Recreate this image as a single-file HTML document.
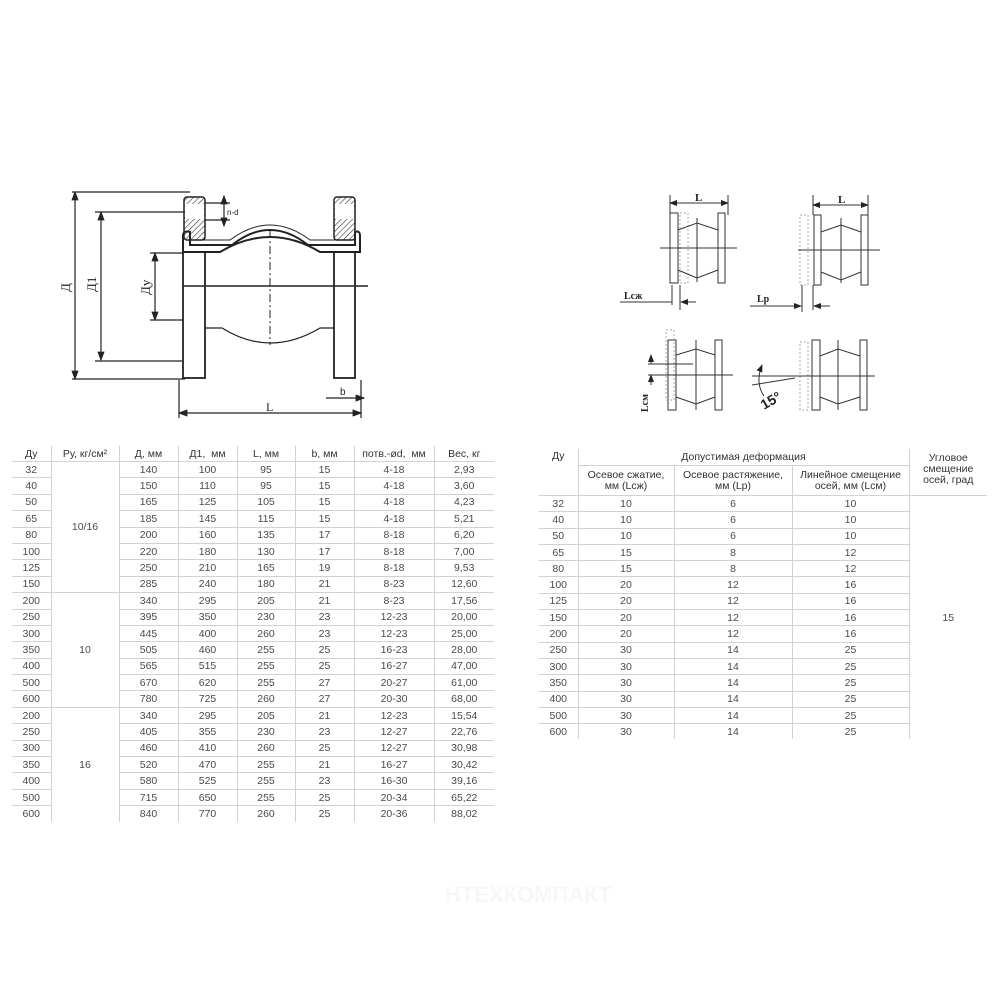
<!DOCTYPE html>
<html><head><meta charset="utf-8"><style>
html,body{margin:0;padding:0;background:#fff;width:1000px;height:1000px;overflow:hidden;position:relative;font-family:"Liberation Sans","DejaVu Sans",sans-serif;color:#4a4a4a}
table{border-collapse:collapse;table-layout:fixed;position:absolute;font-size:10.5px}
td{padding:0;text-align:center;vertical-align:middle;white-space:nowrap;overflow:hidden}
#t1 td{height:15.4px;border-top:1px solid #d2d2d2;border-left:1px solid #d2d2d2}
#t1 tr.h td{border-top:none;height:15px;color:#333;font-size:10.5px}
#t1 td.f{border-left:none}
#t2 td{height:15.3px;border-top:1px solid #d2d2d2;border-left:1px solid #d2d2d2}
#t2 .nb{border-left:none}
#t2 .nt{border-top:none}
#t2 .hd{color:#333;line-height:11px}
svg{position:absolute;left:0;top:0}
</style></head><body>
<svg width="1000" height="440" viewBox="0 0 1000 440" fill="none" stroke="#222" stroke-width="1.2">
<defs><pattern id="h" width="4" height="4" patternUnits="userSpaceOnUse" patternTransform="rotate(45)"><line x1="0" y1="0" x2="0" y2="4" stroke="#333" stroke-width="1.2"/></pattern>
<marker id="a" markerWidth="8" markerHeight="8" refX="7" refY="4" orient="auto-start-reverse"><path d="M0,1 L8,4 L0,7 Z" fill="#222" stroke="none"/></marker></defs>
<line x1="72" y1="192" x2="190" y2="192"/><line x1="75" y1="192" x2="75" y2="379" marker-start="url(#a)" marker-end="url(#a)"/><line x1="72" y1="379" x2="185" y2="379"/>
<line x1="95" y1="212" x2="185" y2="212"/><line x1="101" y1="212" x2="101" y2="360" marker-start="url(#a)" marker-end="url(#a)"/><line x1="95" y1="361" x2="182" y2="361"/>
<line x1="150" y1="253" x2="183" y2="253"/><line x1="155" y1="253" x2="155" y2="320" marker-start="url(#a)" marker-end="url(#a)"/><line x1="150" y1="320" x2="183" y2="320"/>
<text x="70" y="292" font-family="Liberation Serif" font-size="13" fill="#222" stroke="none" transform="rotate(-90 70 292)">Д</text>
<text x="96" y="292" font-family="Liberation Serif" font-size="13" fill="#222" stroke="none" transform="rotate(-90 96 292)">Д1</text>
<text x="150" y="295" font-family="Liberation Serif" font-size="13" fill="#222" stroke="none" transform="rotate(-90 150 295)">Ду</text>
<rect x="184" y="197" width="21" height="43" fill="url(#h)" rx="3" stroke-width="1.5"/>
<rect x="185" y="204" width="19" height="15" fill="#fff" stroke="none"/>
<rect x="334" y="197" width="21" height="43" fill="url(#h)" rx="3" stroke-width="1.5"/>
<rect x="335" y="204" width="19" height="15" fill="#fff" stroke="none"/>
<line x1="205" y1="203" x2="230" y2="203"/><line x1="205" y1="220" x2="230" y2="220"/>
<line x1="224" y1="196" x2="224" y2="226" marker-start="url(#a)" marker-end="url(#a)"/>
<text x="227" y="215" font-size="8" fill="#222" stroke="none">n-d</text>
<path d="M183,236 Q183,230 190,232 L190,245 L232,245 Q270,215 308,245 L355,245 L355,232 Q360,230 360,236 L360,252 L320,252 Q270,222 220,252 L183,252 Z" stroke-width="2"/>
<path d="M190,240 L230,240 Q270,210 310,240 L352,240" stroke-width="1"/>
<rect x="183" y="252" width="22" height="126" stroke-width="1.8"/>
<rect x="334" y="252" width="21" height="126" stroke-width="1.8"/>
<line x1="183" y1="286" x2="368" y2="286" stroke-width="1.6"/>
<line x1="270" y1="230" x2="270" y2="345" stroke-dasharray="8,3,2,3" stroke-width="1"/>
<path d="M205,328 L222,328 Q270,358 320,328 L334,328" stroke-width="1.2"/>
<line x1="179" y1="380" x2="179" y2="418"/><line x1="361" y1="380" x2="361" y2="418"/>
<line x1="179" y1="413" x2="361" y2="413" marker-start="url(#a)" marker-end="url(#a)"/>
<text x="266" y="411" font-family="Liberation Serif" font-size="12" fill="#222" stroke="none">L</text>
<path d="M326,398 L334,398 M355,398 L364,398" marker-end="url(#a)"/>
<line x1="334" y1="398" x2="355" y2="398"/>
<text x="340" y="395" font-size="10" fill="#222" stroke="none">b</text>
<g stroke-width="1" stroke="#333">
<line x1="670" y1="195" x2="670" y2="215"/><line x1="728" y1="195" x2="728" y2="215"/>
<line x1="670" y1="203" x2="728" y2="203" marker-start="url(#a)" marker-end="url(#a)"/>
<text x="695" y="201" font-family="Liberation Serif" font-size="11" font-weight="bold" fill="#222" stroke="none">L</text>
<rect x="670" y="213" width="8" height="70"/><rect x="718" y="213" width="7" height="70"/>
<rect x="680" y="213" width="8" height="70" stroke="#aaa" stroke-dasharray="2,2"/>
<path d="M678,230 L697,223 L718,230 M678,270 L697,278 L718,270"/>
<line x1="660" y1="248" x2="737" y2="248"/><line x1="697" y1="218" x2="697" y2="282"/>
<line x1="672" y1="285" x2="672" y2="305"/><line x1="680" y1="285" x2="680" y2="310"/>
<line x1="620" y1="302" x2="672" y2="302"/><line x1="696" y1="302" x2="681" y2="302" marker-end="url(#a)"/>
<text x="624" y="299" font-family="Liberation Serif" font-size="10" font-weight="bold" fill="#222" stroke="none">Lсж</text>
<line x1="813" y1="195" x2="813" y2="215"/><line x1="868" y1="195" x2="868" y2="215"/>
<line x1="813" y1="205" x2="868" y2="205" marker-start="url(#a)" marker-end="url(#a)"/>
<text x="838" y="203" font-family="Liberation Serif" font-size="11" font-weight="bold" fill="#222" stroke="none">L</text>
<rect x="814" y="215" width="7" height="70"/><rect x="861" y="215" width="7" height="70"/>
<rect x="800" y="215" width="8" height="70" stroke="#aaa" stroke-dasharray="2,2"/>
<path d="M821,232 L841,225 L861,232 M821,272 L841,280 L861,272"/>
<line x1="798" y1="250" x2="880" y2="250"/><line x1="841" y1="218" x2="841" y2="283"/>
<line x1="802" y1="285" x2="802" y2="312"/><line x1="813" y1="285" x2="813" y2="310"/>
<line x1="750" y1="306" x2="801" y2="306" marker-end="url(#a)"/><line x1="830" y1="306" x2="814" y2="306" marker-end="url(#a)"/>
<text x="757" y="302" font-family="Liberation Serif" font-size="10" font-weight="bold" fill="#222" stroke="none">Lp</text>
<rect x="668" y="340" width="8" height="70"/><rect x="715" y="340" width="7" height="70"/>
<rect x="666" y="330" width="8" height="70" stroke="#aaa" stroke-dasharray="2,2"/>
<path d="M676,355 L696,349 L715,355 M676,397 L696,404 L715,397"/>
<line x1="648" y1="375" x2="733" y2="375"/><line x1="648" y1="364" x2="693" y2="364"/><line x1="696" y1="340" x2="696" y2="410"/>
<line x1="651" y1="355" x2="651" y2="364" marker-start="url(#a)"/><line x1="651" y1="375" x2="651" y2="385" marker-start="url(#a)"/>
<text x="648" y="412" font-family="Liberation Serif" font-size="10" font-weight="bold" fill="#222" stroke="none" transform="rotate(-90 648 412)">Lсм</text>
<rect x="812" y="340" width="8" height="70"/><rect x="860" y="340" width="7" height="70"/>
<rect x="800" y="342" width="8" height="68" stroke="#aaa" stroke-dasharray="2,2"/>
<path d="M820,356 L838,349 L860,356 M820,397 L838,404 L860,397"/>
<line x1="752" y1="376" x2="875" y2="376"/><line x1="838" y1="340" x2="838" y2="410"/>
<line x1="752" y1="385" x2="795" y2="378"/>
<path d="M762,365 Q755,383 764,396" marker-start="url(#a)"/>
<text x="764" y="410" font-size="14" font-weight="bold" fill="#222" stroke="none" transform="rotate(-30 764 410)">15°</text>
</g>
</svg>

<table id="t1" style="left:12px;top:446px;width:482px">
<colgroup><col style="width:39px"><col style="width:68px"><col style="width:59px"><col style="width:59px"><col style="width:58px"><col style="width:59px"><col style="width:80px"><col style="width:60px"></colgroup>
<tr class="h"><td class="f">Ду</td><td>Ру, кг/см²</td><td>Д, мм</td><td>Д1,&nbsp; мм</td><td>L, мм</td><td>b, мм</td><td>потв.-ød,&nbsp; мм</td><td>Вес, кг</td></tr>
<tr><td class="f">32</td><td rowspan="8">10/16</td><td>140</td><td>100</td><td>95</td><td>15</td><td>4-18</td><td>2,93</td></tr>
<tr><td class="f">40</td><td>150</td><td>110</td><td>95</td><td>15</td><td>4-18</td><td>3,60</td></tr>
<tr><td class="f">50</td><td>165</td><td>125</td><td>105</td><td>15</td><td>4-18</td><td>4,23</td></tr>
<tr><td class="f">65</td><td>185</td><td>145</td><td>115</td><td>15</td><td>4-18</td><td>5,21</td></tr>
<tr><td class="f">80</td><td>200</td><td>160</td><td>135</td><td>17</td><td>8-18</td><td>6,20</td></tr>
<tr><td class="f">100</td><td>220</td><td>180</td><td>130</td><td>17</td><td>8-18</td><td>7,00</td></tr>
<tr><td class="f">125</td><td>250</td><td>210</td><td>165</td><td>19</td><td>8-18</td><td>9,53</td></tr>
<tr><td class="f">150</td><td>285</td><td>240</td><td>180</td><td>21</td><td>8-23</td><td>12,60</td></tr>
<tr><td class="f">200</td><td rowspan="7">10</td><td>340</td><td>295</td><td>205</td><td>21</td><td>8-23</td><td>17,56</td></tr>
<tr><td class="f">250</td><td>395</td><td>350</td><td>230</td><td>23</td><td>12-23</td><td>20,00</td></tr>
<tr><td class="f">300</td><td>445</td><td>400</td><td>260</td><td>23</td><td>12-23</td><td>25,00</td></tr>
<tr><td class="f">350</td><td>505</td><td>460</td><td>255</td><td>25</td><td>16-23</td><td>28,00</td></tr>
<tr><td class="f">400</td><td>565</td><td>515</td><td>255</td><td>25</td><td>16-27</td><td>47,00</td></tr>
<tr><td class="f">500</td><td>670</td><td>620</td><td>255</td><td>27</td><td>20-27</td><td>61,00</td></tr>
<tr><td class="f">600</td><td>780</td><td>725</td><td>260</td><td>27</td><td>20-30</td><td>68,00</td></tr>
<tr><td class="f">200</td><td rowspan="7">16</td><td>340</td><td>295</td><td>205</td><td>21</td><td>12-23</td><td>15,54</td></tr>
<tr><td class="f">250</td><td>405</td><td>355</td><td>230</td><td>23</td><td>12-27</td><td>22,76</td></tr>
<tr><td class="f">300</td><td>460</td><td>410</td><td>260</td><td>25</td><td>12-27</td><td>30,98</td></tr>
<tr><td class="f">350</td><td>520</td><td>470</td><td>255</td><td>21</td><td>16-27</td><td>30,42</td></tr>
<tr><td class="f">400</td><td>580</td><td>525</td><td>255</td><td>23</td><td>16-30</td><td>39,16</td></tr>
<tr><td class="f">500</td><td>715</td><td>650</td><td>255</td><td>25</td><td>20-34</td><td>65,22</td></tr>
<tr><td class="f">600</td><td>840</td><td>770</td><td>260</td><td>25</td><td>20-36</td><td>88,02</td></tr>
</table>

<table id="t2" style="left:539px;top:449px;width:448px">
<colgroup><col style="width:39px"><col style="width:96px"><col style="width:118px"><col style="width:117px"><col style="width:78px"></colgroup>
<tr><td rowspan="2" class="nb nt hd" style="vertical-align:top;padding-top:2px">Ду</td><td colspan="3" class="nt hd" style="height:16px">Допустимая деформация</td><td rowspan="2" class="nt hd" style="vertical-align:top;padding-top:4px;white-space:normal">Угловое<br>смещение<br>осей, град</td></tr>
<tr><td class="hd" style="height:29px">Осевое сжатие,<br>мм (Lсж)</td><td class="hd">Осевое растяжение,<br>мм (Lp)</td><td class="hd">Линейное смещение<br>осей, мм (Lсм)</td></tr>
<tr><td class="nb">32</td><td>10</td><td>6</td><td>10</td><td rowspan="15" style="border-bottom:none">15</td></tr>
<tr><td class="nb">40</td><td>10</td><td>6</td><td>10</td></tr>
<tr><td class="nb">50</td><td>10</td><td>6</td><td>10</td></tr>
<tr><td class="nb">65</td><td>15</td><td>8</td><td>12</td></tr>
<tr><td class="nb">80</td><td>15</td><td>8</td><td>12</td></tr>
<tr><td class="nb">100</td><td>20</td><td>12</td><td>16</td></tr>
<tr><td class="nb">125</td><td>20</td><td>12</td><td>16</td></tr>
<tr><td class="nb">150</td><td>20</td><td>12</td><td>16</td></tr>
<tr><td class="nb">200</td><td>20</td><td>12</td><td>16</td></tr>
<tr><td class="nb">250</td><td>30</td><td>14</td><td>25</td></tr>
<tr><td class="nb">300</td><td>30</td><td>14</td><td>25</td></tr>
<tr><td class="nb">350</td><td>30</td><td>14</td><td>25</td></tr>
<tr><td class="nb">400</td><td>30</td><td>14</td><td>25</td></tr>
<tr><td class="nb">500</td><td>30</td><td>14</td><td>25</td></tr>
<tr><td class="nb">600</td><td>30</td><td>14</td><td>25</td></tr>
</table>

<div style="position:absolute;left:445px;top:882px;font-size:22px;font-weight:bold;color:#f7f7f7">НТЕХКОМПАКТ</div>
</body></html>
